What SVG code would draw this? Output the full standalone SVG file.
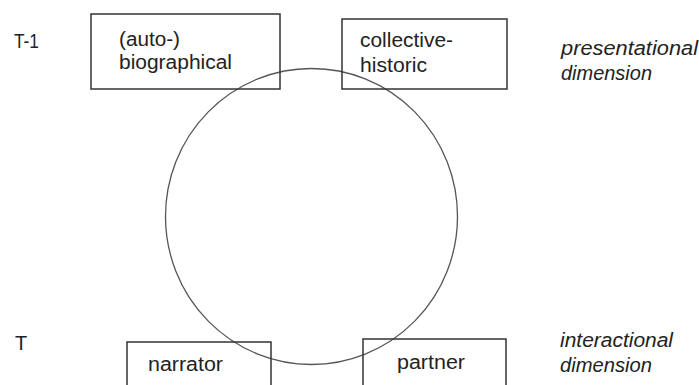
<svg xmlns="http://www.w3.org/2000/svg" width="699" height="385" viewBox="0 0 699 385">
<style>
.box{fill:none;stroke:#333;stroke-width:1.5}
.t{font-family:"Liberation Sans",Arial,sans-serif;font-size:20px;fill:#222}
.i{font-style:italic}
.c{fill:none;stroke:#555;stroke-width:1.3}
</style>
<rect width="699" height="385" fill="#fff"/>
<g id="labels">
<text class="t" x="14" y="48" textLength="25" lengthAdjust="spacingAndGlyphs">T-1</text>
<text class="t" x="15" y="350">T</text>
<text class="t i" x="561" y="55" textLength="137" lengthAdjust="spacingAndGlyphs">presentational</text>
<text class="t i" x="561" y="80" textLength="91" lengthAdjust="spacingAndGlyphs">dimension</text>
<text class="t i" x="560" y="347" textLength="113" lengthAdjust="spacingAndGlyphs">interactional</text>
<text class="t i" x="560" y="372" textLength="92" lengthAdjust="spacingAndGlyphs">dimension</text>
</g>
<g id="connectors">
<ellipse class="c" cx="311.5" cy="216.5" rx="146" ry="148"/>
</g>
<g id="biographical">
<rect class="box" x="91" y="14" width="189" height="75"/>
<text class="t" x="119" y="46" textLength="61" lengthAdjust="spacingAndGlyphs">(auto-)</text>
<text class="t" x="119" y="69" textLength="113" lengthAdjust="spacingAndGlyphs">biographical</text>
</g>
<g id="collective">
<rect class="box" x="342" y="19" width="165" height="70"/>
<text class="t" x="360" y="47" textLength="93" lengthAdjust="spacingAndGlyphs">collective-</text>
<text class="t" x="360" y="72" textLength="67" lengthAdjust="spacingAndGlyphs">historic</text>
</g>
<g id="narrator">
<rect class="box" x="127" y="342" width="144" height="60"/>
<text class="t" x="148" y="371" textLength="75" lengthAdjust="spacingAndGlyphs">narrator</text>
</g>
<g id="partner">
<rect class="box" x="363" y="339" width="143" height="60"/>
<text class="t" x="397" y="369" textLength="68" lengthAdjust="spacingAndGlyphs">partner</text>
</g>
</svg>
